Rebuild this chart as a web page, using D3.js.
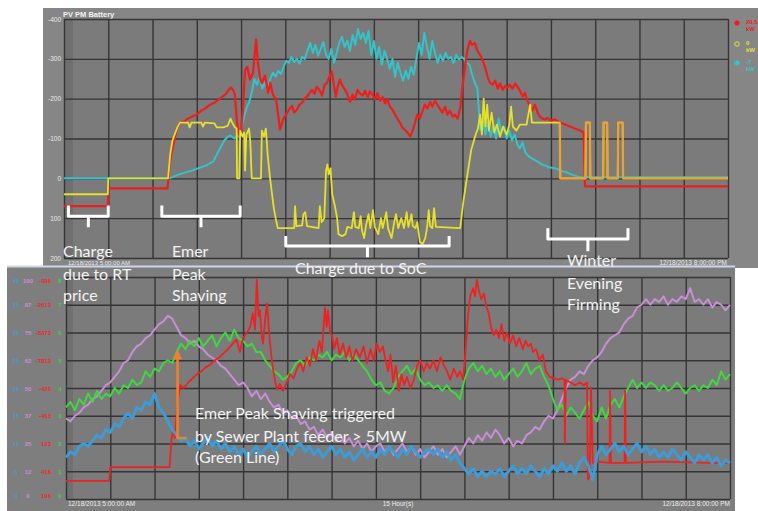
<!DOCTYPE html>
<html>
<head>
<meta charset="utf-8">
<script src="https://cdn.jsdelivr.net/npm/d3@7"></script>
<style>
  html, body { margin: 0; padding: 0; background: #ffffff; }
  svg { display: block; }
</style>
</head>
<body>
<svg id="chart" width="758" height="511"></svg>
<script>
// ---------- Upper trend: PV / PM / Battery (kW, negative = up) ----------
const hourTicks = [5, 6, 7, 8, 9, 10, 11, 12, 13, 14, 15, 16, 17, 18, 19, 20];
const topTicks = [-400, -300, -200, -100, 0, 100, 200];
const topTickLabels = ["-400", "-300", "-200", "-100", "0", "100", "200"];

// [hour, kW]
const redTop = [
  [5.00,70],[5.99,70],[6.00,25],[7.34,25],[7.38,-30],[7.42,-60],[7.46,-80],[7.50,-100],[7.55,-125],[7.62,-138],
  [7.70,-142],[7.80,-150],[7.90,-155],[8.00,-160],[8.10,-170],[8.20,-176],[8.30,-185],[8.40,-190],[8.50,-198],
  [8.58,-205],[8.66,-212],[8.72,-222],[8.77,-228],[8.82,-222],[8.86,-210],[8.90,-150],[8.95,-110],[9.00,-120],
  [9.04,-172],[9.09,-272],[9.14,-280],[9.20,-248],[9.27,-265],[9.34,-348],[9.38,-290],[9.43,-250],[9.47,-240],
  [9.54,-258],[9.61,-215],[9.66,-240],[9.72,-210],[9.79,-198],[9.85,-150],[9.88,-122],[9.95,-148],[10.04,-165],
  [10.10,-175],[10.15,-182],[10.20,-165],[10.26,-172],[10.32,-185],[10.38,-190],[10.44,-200],[10.49,-205],
  [10.55,-215],[10.60,-222],[10.66,-212],[10.71,-230],[10.77,-222],[10.83,-208],[10.89,-235],[10.94,-240],
  [11.00,-255],[11.05,-268],[11.10,-232],[11.14,-205],[11.18,-228],[11.23,-248],[11.29,-232],[11.35,-222],
  [11.40,-212],[11.46,-192],[11.52,-210],[11.57,-198],[11.63,-222],[11.69,-212],[11.75,-208],[11.80,-220],
  [11.86,-203],[11.91,-218],[11.97,-210],[12.03,-198],[12.08,-214],[12.14,-195],[12.20,-204],[12.25,-188],
  [12.31,-198],[12.36,-180],[12.42,-172],[12.48,-160],[12.53,-150],[12.59,-140],[12.64,-128],[12.70,-122],
  [12.76,-115],[12.82,-105],[12.87,-118],[12.93,-140],[12.98,-160],[13.04,-150],[13.10,-170],[13.15,-185],
  [13.21,-175],[13.27,-192],[13.32,-180],[13.38,-195],[13.44,-184],[13.49,-175],[13.55,-165],[13.61,-180],
  [13.66,-160],[13.72,-170],[13.78,-155],[13.83,-160],[13.89,-150],[13.95,-175],[14.00,-230],[14.06,-280],
  [14.11,-320],[14.17,-345],[14.22,-335],[14.28,-340],[14.34,-320],[14.40,-310],[14.45,-298],[14.51,-280],
  [14.57,-255],[14.62,-240],[14.68,-235],[14.74,-245],[14.80,-225],[14.85,-238],[14.91,-222],[14.96,-232],
  [15.02,-228],[15.07,-235],[15.13,-225],[15.19,-238],[15.24,-230],[15.30,-220],[15.36,-205],[15.41,-215],
  [15.47,-195],[15.53,-180],[15.58,-170],[15.64,-185],[15.70,-165],[15.75,-155],[15.81,-150],[15.87,-148],
  [15.92,-152],[15.98,-145],[16.09,-148],[16.20,-140],[16.32,-135],[16.43,-130],[16.54,-125],[16.66,-120],
  [16.74,-115],[16.77,20],[20.00,20]
];

const yellowTop = [
  [5.00,40],[5.99,40],[6.00,0],[7.35,0],[7.40,-60],[7.45,-95],[7.50,-110],[7.56,-128],[7.62,-140],[7.80,-140],
  [7.84,-128],[7.88,-140],[8.10,-140],[8.14,-130],[8.18,-140],[8.40,-138],[8.45,-128],[8.60,-128],[8.70,-132],
  [8.76,-150],[8.80,-140],[8.86,-128],[8.90,-125],[8.91,0],[8.96,0],[8.98,-120],[9.03,-105],[9.07,-115],
  [9.09,-20],[9.12,-110],[9.18,-125],[9.21,-90],[9.24,0],[9.45,0],[9.47,-120],[9.52,-105],[9.56,-125],
  [9.60,-60],[9.65,-5],[9.70,40],[9.74,75],[9.79,105],[9.83,125],[10.20,125],[10.22,70],[10.25,120],
  [10.38,118],[10.41,90],[10.45,85],[10.49,120],[10.75,125],[10.78,70],[10.82,110],[10.88,100],[10.92,-20],
  [10.95,-35],[10.98,-10],[11.02,-25],[11.06,40],[11.12,70],[11.17,100],[11.20,140],[11.28,145],[11.36,140],
  [11.40,122],[11.50,125],[11.55,85],[11.58,122],[11.66,125],[11.70,95],[11.73,130],[11.78,150],[11.82,120],
  [11.88,90],[11.92,125],[11.98,80],[12.02,122],[12.10,140],[12.16,100],[12.20,125],[12.28,85],[12.32,125],
  [12.40,150],[12.46,110],[12.50,90],[12.55,125],[12.62,100],[12.68,125],[12.74,85],[12.78,122],[12.85,90],
  [12.88,120],[12.94,125],[12.98,110],[13.04,160],[13.10,165],[13.16,150],[13.20,125],[13.24,80],[13.27,120],
  [13.32,125],[13.36,75],[13.40,122],[13.95,125],[14.02,60],[14.10,0],[14.20,-72],[14.30,-110],[14.35,-125],
  [14.40,-160],[14.44,-110],[14.48,-200],[14.52,-130],[14.56,-185],[14.60,-120],[14.66,-165],[14.72,-115],
  [14.78,-135],[14.85,-105],[14.92,-130],[15.00,-110],[15.06,-135],[15.10,-180],[15.14,-130],[15.22,-120],
  [15.30,-135],[15.45,-135],[15.53,-185],[15.57,-140],[16.20,-140],[16.21,0],[16.78,0],[16.79,-140],
  [16.88,-140],[16.89,0],[17.18,0],[17.19,-140],[17.27,-140],[17.28,0],[17.51,0],[17.52,-140],[17.62,-140],
  [17.63,0],[20.00,0]
];

const cyanTop = [
  [5.00,0],[7.38,0],[7.60,-10],[7.90,-20],[8.20,-32],[8.37,-42],[8.50,-70],[8.62,-95],[8.68,-102],[8.75,-108],
  [8.85,-100],[8.95,-110],[9.00,-125],[9.06,-150],[9.12,-175],[9.18,-190],[9.24,-215],[9.30,-250],[9.36,-235],
  [9.42,-255],[9.48,-225],[9.54,-240],[9.60,-220],[9.66,-250],[9.72,-265],[9.78,-255],[9.84,-270],[9.90,-262],
  [9.96,-280],[10.02,-295],[10.08,-290],[10.14,-305],[10.20,-292],[10.26,-300],[10.32,-288],[10.38,-305],
  [10.44,-300],[10.50,-320],[10.56,-340],[10.62,-315],[10.68,-335],[10.74,-308],[10.80,-325],[10.86,-342],
  [10.92,-310],[10.98,-300],[11.04,-325],[11.10,-290],[11.16,-315],[11.22,-340],[11.28,-355],[11.34,-330],
  [11.40,-345],[11.46,-320],[11.52,-360],[11.58,-335],[11.64,-375],[11.70,-350],[11.76,-365],[11.82,-340],
  [11.88,-370],[11.94,-310],[12.00,-345],[12.06,-300],[12.12,-330],[12.18,-285],[12.24,-320],[12.30,-300],
  [12.36,-275],[12.42,-300],[12.48,-255],[12.54,-290],[12.60,-265],[12.66,-245],[12.72,-270],[12.78,-250],
  [12.84,-280],[12.90,-260],[12.96,-300],[13.02,-340],[13.08,-310],[13.14,-365],[13.20,-330],[13.26,-300],
  [13.32,-345],[13.38,-315],[13.44,-290],[13.50,-310],[13.56,-295],[13.62,-315],[13.68,-300],[13.74,-305],
  [13.80,-290],[13.86,-310],[13.92,-298],[13.98,-305],[14.04,-300],[14.10,-290],[14.16,-285],[14.22,-260],
  [14.28,-240],[14.34,-225],[14.40,-122],[14.46,-150],[14.52,-110],[14.58,-140],[14.64,-105],[14.70,-135],
  [14.76,-100],[14.82,-150],[14.88,-115],[14.94,-130],[15.00,-100],[15.06,-120],[15.12,-95],[15.18,-110],
  [15.24,-85],[15.30,-75],[15.36,-90],[15.42,-65],[15.50,-55],[15.60,-48],[15.70,-42],[15.80,-35],
  [15.95,-28],[16.10,-25],[16.20,-20],[16.35,-15],[16.50,-8],[16.65,-3],[20.00,-3]
];

// ---------- Lower trend: feeder / battery / SoC, each on its own scale (grid divisions 0-8) ----------
const bottomLevels = [0, 1, 2, 3, 4, 5, 6, 7, 8];
const blueAxisLabels   = ["0", "5", "10", "15", "20", "25", "30", "35", "40"];
const purpleAxisLabels = ["0", "12", "25", "37", "50", "62", "75", "87", "100"];
const redAxisLabels    = ["196", "418", "123", "-463", "-425", "-7813", "-8373", "-2613", "-486"];
const greenAxisLabels  = ["0", "1", "2", "3", "4", "5", "6", "7", "8"];

// logged every 6 minutes, 5:00 AM to 8:00 PM
const bottomHours = d3.range(151).map(i => 5 + i * 0.1);

const greenBottom = [
  3.3,3.5,3.2,3.6,3.4,3.8,3.5,3.9,3.6,3.8, 3.7,4.0,3.8,4.1,4.0,4.3,4.1,4.2,4.6,4.4,
  4.7,4.6,4.9,5.0,4.9,5.3,5.6,5.4,5.7,5.5, 5.8,5.5,5.7,5.9,5.5,5.8,6.0,5.7,6.1,5.8,
  5.7,5.5,5.6,5.3,5.3,5.0,4.8,4.6,4.5,4.3, 4.4,4.6,4.9,5.0,4.8,5.1,5.0,5.2,5.1,5.3,
  5.0,5.2,5.1,5.3,5.0,5.2,5.0,4.8,4.6,4.3, 4.1,4.2,3.9,3.8,4.0,4.4,4.6,4.8,4.5,4.7,
  4.3,4.1,4.2,4.0,4.1,3.9,4.1,3.9,3.8,3.6, 4.3,4.7,4.9,4.6,4.8,4.5,4.7,4.4,4.6,4.3,
  4.5,4.7,4.4,4.6,4.9,4.5,4.7,4.8,4.4,4.1, 3.6,3.2,3.4,3.0,3.3,3.1,2.9,3.2,3.5,3.0,
  2.8,3.3,2.9,3.4,3.6,3.3,3.7,4.0,4.3,4.0, 4.2,4.0,4.2,4.1,3.9,4.1,3.9,4.0,4.2,4.0,
  3.8,4.0,4.1,3.9,4.1,4.0,4.3,4.1,4.6,4.3, 4.5
];

const blueBottom = [
  1.5,1.7,1.6,1.9,2.0,1.9,2.1,2.3,2.2,2.5, 2.4,2.7,2.6,2.9,3.1,2.9,3.3,3.2,3.5,3.4,
  3.8,3.3,3.1,2.8,2.5,2.3,2.1,2.2,1.9,2.1, 1.8,2.0,2.2,1.9,2.1,1.8,2.0,1.7,1.9,1.6,
  1.8,1.5,1.7,1.9,1.6,1.8,2.0,1.7,1.9,2.1, 1.8,1.6,1.9,2.0,1.7,1.9,1.6,1.8,1.5,1.7,
  1.9,1.6,1.8,1.5,1.7,1.4,1.6,1.8,1.5,1.7, 1.5,1.8,1.6,1.9,1.7,1.5,1.8,1.6,1.9,1.7,
  1.5,1.7,1.8,1.6,1.8,1.5,1.7,1.4,1.6,1.3, 1.1,0.9,1.1,0.8,1.0,0.8,1.0,0.9,1.1,0.8,
  1.0,1.2,0.9,1.1,0.9,1.2,1.0,0.8,1.1,0.9, 1.2,1.0,1.3,1.0,1.2,0.9,1.3,1.5,1.2,0.7,
  1.6,1.9,1.6,1.8,2.0,1.7,1.9,1.6,1.8,2.0, 1.7,1.9,1.6,1.8,1.5,1.7,1.5,1.8,1.6,1.4,
  1.7,1.5,1.3,1.6,1.4,1.6,1.3,1.5,1.2,1.4, 1.3
];

const purpleBottom = [
  2.9,2.8,3.0,3.1,3.3,3.4,3.6,3.7,3.9,4.1, 4.2,4.4,4.6,4.9,5.0,5.3,5.5,5.6,5.8,5.9,
  6.1,6.3,6.4,6.6,6.5,6.2,5.9,5.8,5.6,5.7, 5.5,5.4,5.2,5.1,5.0,4.8,4.7,4.5,4.3,4.1,
  4.2,4.0,3.7,3.9,3.6,3.8,3.5,3.3,3.4,3.1, 3.2,2.9,3.0,2.7,2.8,2.5,2.6,2.3,2.5,2.2,
  2.4,2.1,2.3,2.0,2.2,1.9,2.1,1.8,2.0,1.7, 1.9,2.0,1.7,1.9,1.6,1.8,2.0,1.7,1.9,1.6,
  1.8,1.5,1.7,1.9,1.6,1.8,1.5,1.7,1.9,1.6, 1.9,2.2,2.0,2.3,2.1,2.4,2.2,2.5,2.3,2.0,
  2.2,1.9,2.1,2.0,2.3,2.4,2.6,2.5,2.8,3.0, 2.9,3.2,3.6,4.0,4.3,4.4,4.6,4.5,4.8,5.0,
  5.1,5.3,5.6,5.8,5.9,6.0,6.3,6.5,6.6,6.9, 7.0,7.2,7.0,7.2,7.1,7.3,7.0,7.2,7.1,7.3,
  7.2,7.6,7.1,7.2,7.0,7.2,6.9,7.1,7.0,6.8, 7.0
];

// battery output on the lower trend: [hour, grid division]
const redBottom = [
  [5.00,0.65],[5.98,0.65],[6.00,1.15],[7.34,1.15],[7.38,2.1],[7.42,2.5],[7.46,2.2],[7.52,3.5],[7.58,4.1],
  [7.66,4.0],[7.76,4.2],[7.86,4.35],[7.96,4.5],[8.06,4.6],[8.16,4.75],[8.26,4.85],[8.36,5.0],[8.46,5.1],
  [8.56,5.25],[8.66,5.4],[8.77,5.6],[8.85,5.75],[8.93,5.3],[9.00,5.8],[9.09,6.0],[9.16,6.2],[9.22,6.7],
  [9.27,6.1],[9.31,7.9],[9.35,6.6],[9.38,6.8],[9.42,5.9],[9.45,5.6],[9.50,6.5],[9.54,7.05],[9.58,6.2],
  [9.61,5.6],[9.65,5.0],[9.68,4.65],[9.73,4.2],[9.77,3.95],[9.83,4.15],[9.90,3.9],[9.99,4.2],[10.06,4.5],
  [10.14,4.35],[10.22,4.7],[10.29,4.9],[10.36,4.6],[10.44,5.1],[10.51,4.8],[10.58,5.4],[10.65,5.0],
  [10.72,5.7],[10.78,5.3],[10.85,6.9],[10.89,6.2],[10.92,6.8],[10.97,6.0],[11.01,5.9],[11.06,5.4],
  [11.12,5.8],[11.18,5.2],[11.26,5.6],[11.33,5.1],[11.40,5.5],[11.47,5.0],[11.55,5.4],[11.64,5.1],
  [11.72,5.5],[11.80,4.9],[11.88,5.4],[11.95,5.0],[12.02,5.6],[12.09,5.3],[12.16,5.5],[12.22,5.0],
  [12.28,4.6],[12.33,5.2],[12.39,4.2],[12.45,4.8],[12.52,3.9],[12.58,4.5],[12.64,4.1],[12.70,4.4],
  [12.78,4.0],[12.86,4.3],[12.93,4.8],[13.00,5.0],[13.08,4.6],[13.15,4.9],[13.22,4.7],[13.30,5.0],
  [13.38,4.6],[13.46,5.1],[13.54,4.8],[13.61,4.6],[13.68,4.3],[13.76,4.7],[13.84,4.4],[13.90,4.6],
  [13.97,4.3],[14.03,5.4],[14.08,6.6],[14.13,7.3],[14.20,7.6],[14.24,7.3],[14.28,7.9],[14.33,7.5],
  [14.38,7.2],[14.44,7.4],[14.50,6.9],[14.55,6.7],[14.60,6.2],[14.66,5.9],[14.72,6.1],[14.78,5.8],
  [14.84,6.3],[14.90,5.7],[14.96,6.0],[15.03,5.6],[15.10,5.9],[15.17,5.5],[15.24,5.8],[15.32,5.4],
  [15.38,5.7],[15.44,5.5],[15.50,5.6],[15.55,5.3],[15.62,5.4],[15.69,5.0],[15.77,5.2],[15.84,4.6],
  [15.93,4.4],[16.02,4.35],[16.12,4.3],[16.20,4.35],[16.26,4.3],[16.27,2.0],[16.29,4.3],[16.40,4.2],
  [16.50,4.1],[16.61,4.2],[16.70,4.1],[16.77,4.2],[16.79,0.7],[16.83,0.8],[16.86,4.0],[16.90,1.3],
  [17.00,1.35],[17.28,1.3],[17.29,3.9],[17.31,1.3],[17.62,1.3],[17.63,3.9],[17.65,1.3],[18.50,1.35],
  [19.50,1.3],[20.00,1.3]
];

// ---------- scales ----------
const topX = d3.scaleLinear().domain([5, 20]).range([64, 728]);
const topY = d3.scaleLinear().domain([-400, 200]).range([19, 258]);
const botX = d3.scaleLinear().domain([5, 20]).range([66, 730]);
const botY = d3.scaleLinear().domain([0, 8]).range([499, 277]);

const svg = d3.select("#chart");
const gridColor = "#353535";
const tinyFont = "Liberation Sans, Arial, sans-serif";

function styleGrid(g) {
  g.select(".domain").remove();
  g.selectAll(".tick line").attr("stroke", gridColor).attr("stroke-width", 1.4);
}

function drawSeries(g, data, x, y, color, width) {
  g.append("path")
    .datum(data)
    .attr("d", d3.line().x(d => x(d[0])).y(d => y(d[1])))
    .attr("fill", "none")
    .attr("stroke", color)
    .attr("stroke-width", width)
    .attr("stroke-linejoin", "round");
}

// ---------- upper panel ----------
const upper = svg.append("g");
upper.append("rect").attr("x", 43).attr("y", 8).attr("width", 715).attr("height", 260).attr("fill", "#868686");
upper.append("rect").attr("x", topX(5)).attr("y", topY(-400))
  .attr("width", topX(20) - topX(5)).attr("height", topY(200) - topY(-400)).attr("fill", "#7b7b7b");
upper.append("rect").attr("x", topX(5)).attr("y", topY(-400))
  .attr("width", 9).attr("height", topY(200) - topY(-400)).attr("fill", "#6f6f6f");
upper.append("text").attr("x", 63).attr("y", 17).text("PV PM Battery")
  .attr("font-family", tinyFont).attr("font-size", 7.5).attr("font-weight", "bold").attr("fill", "#f2f2f2");

upper.append("g").attr("transform", `translate(${topX(5)},0)`)
  .call(d3.axisLeft(topY).tickValues(topTicks).tickSize(-(topX(20) - topX(5))).tickPadding(3)
    .tickFormat((d, i) => topTickLabels[i]))
  .call(styleGrid)
  .call(g => g.selectAll("text").attr("fill", "#e6e6e6").attr("font-size", 6.5).attr("font-family", tinyFont));
upper.append("g").attr("transform", `translate(0,${topY(200)})`)
  .call(d3.axisBottom(topX).tickValues(hourTicks).tickSize(-(topY(200) - topY(-400))).tickFormat(""))
  .call(styleGrid);

const upperLines = upper.append("g");
drawSeries(upperLines, cyanTop, topX, topY, "#33c4c9", 2);
drawSeries(upperLines, redTop, topX, topY, "#f01d1d", 2.2);
drawSeries(upperLines, yellowTop, topX, topY, "#e6e02a", 1.8);
drawSeries(upperLines, yellowTop.filter(d => d[0] >= 16.2), topX, topY, "#f0a030", 2.2);

upper.append("text").attr("x", 68).attr("y", 265).text("12/18/2013 5:00:00 AM")
  .attr("font-family", tinyFont).attr("font-size", 6).attr("fill", "#ececec");
upper.append("text").attr("x", 727).attr("y", 264.5).attr("text-anchor", "end").text("12/18/2013 8:00:00 PM")
  .attr("font-family", tinyFont).attr("font-size", 6.5).attr("fill", "#ececec");

// legend
const legend = [
  { color: "#f01d1d", value: "20.5", unit: "kW", y: 23, ring: false },
  { color: "#e6e02a", value: "0", unit: "kW", y: 44, ring: true },
  { color: "#33c4c9", value: "-7", unit: "kW", y: 63, ring: false }
];
legend.forEach(l => {
  upper.append("circle").attr("cx", 737).attr("cy", l.y).attr("r", 2.2)
    .attr("fill", l.ring ? "none" : l.color).attr("stroke", l.color).attr("stroke-width", 1);
  upper.append("text").attr("x", 746).attr("y", l.y + 1).text(l.value)
    .attr("font-family", tinyFont).attr("font-size", 6).attr("font-weight", "bold").attr("fill", l.color);
  upper.append("text").attr("x", 746).attr("y", l.y + 8).text(l.unit)
    .attr("font-family", tinyFont).attr("font-size", 6).attr("font-weight", "bold").attr("fill", l.color);
});

// ---------- lower panel ----------
const lower = svg.append("g");
lower.append("rect").attr("x", 7).attr("y", 266).attr("width", 728).attr("height", 245).attr("fill", "#7e7e7e");
lower.append("line").attr("x1", 7).attr("x2", 735).attr("y1", 266.5).attr("y2", 266.5)
  .attr("stroke", "#cfd6e4").attr("stroke-width", 2);
lower.append("rect").attr("x", botX(5)).attr("y", botY(8))
  .attr("width", botX(20) - botX(5)).attr("height", botY(0) - botY(8)).attr("fill", "#7b7b7b");
lower.append("rect").attr("x", botX(5)).attr("y", botY(8))
  .attr("width", 7).attr("height", botY(0) - botY(8)).attr("fill", "#707070");

lower.append("g").attr("transform", `translate(${botX(5)},0)`)
  .call(d3.axisLeft(botY).tickValues(bottomLevels).tickSize(-(botX(20) - botX(5))).tickFormat(""))
  .call(styleGrid);
lower.append("g").attr("transform", `translate(0,${botY(0)})`)
  .call(d3.axisBottom(botX).tickValues(hourTicks).tickSize(-(botY(0) - botY(8))).tickFormat(""))
  .call(styleGrid);

// four stacked value axes on the left
const axisCols = [
  { labels: blueAxisLabels, color: "#3d9bd6", x: 16, anchor: "middle" },
  { labels: purpleAxisLabels, color: "#c88ed6", x: 28, anchor: "middle" },
  { labels: redAxisLabels, color: "#ee2a2a", x: 51, anchor: "end" },
  { labels: greenAxisLabels, color: "#3fd23f", x: 60, anchor: "middle" }
];
axisCols.forEach(c => {
  lower.append("g").selectAll("text").data(bottomLevels).join("text")
    .attr("x", c.x)
    .attr("y", d => Math.min(Math.max(botY(d), 280), 495) + 2.5)
    .attr("text-anchor", c.anchor)
    .attr("font-family", tinyFont).attr("font-size", 6).attr("font-weight", "bold")
    .attr("fill", c.color)
    .text((d, i) => c.labels[i]);
});

const lowerLines = lower.append("g");
drawSeries(lowerLines, bottomHours.map((h, i) => [h, purpleBottom[i]]), botX, botY, "#c88ed6", 2);
drawSeries(lowerLines, bottomHours.map((h, i) => [h, greenBottom[i]]), botX, botY, "#3fd83f", 2);
drawSeries(lowerLines, redBottom, botX, botY, "#ee2222", 1.8);
drawSeries(lowerLines, bottomHours.map((h, i) => [h, blueBottom[i]]), botX, botY, "#3d9bd6", 3);

lower.append("text").attr("x", 68).attr("y", 506).text("12/18/2013 5:00:00 AM")
  .attr("font-family", tinyFont).attr("font-size", 6.5).attr("fill", "#ececec");
lower.append("text").attr("x", botX(12.5)).attr("y", 506).attr("text-anchor", "middle").text("15 Hour(s)")
  .attr("font-family", tinyFont).attr("font-size", 6.5).attr("fill", "#ececec");
lower.append("text").attr("x", 730).attr("y", 506).attr("text-anchor", "end").text("12/18/2013 8:00:00 PM")
  .attr("font-family", tinyFont).attr("font-size", 6.5).attr("fill", "#ececec");

// ---------- annotations ----------
const notes = svg.append("g");
const braces = [
  { h0: 5.10, h1: 6.00, top: 68, mid: 95, tip: 123 },
  { h0: 7.21, h1: 8.98, top: 68, mid: 95, tip: 123 },
  { h0: 10.01, h1: 13.70, top: 145, mid: 170, tip: 198 },
  { h0: 15.93, h1: 17.74, top: 125, mid: 152, tip: 183 }
];
braces.forEach(b => {
  const x0 = topX(b.h0), x1 = topX(b.h1), xc = (x0 + x1) / 2;
  notes.append("path")
    .attr("d", `M${x0},${topY(b.top)} V${topY(b.mid)} H${x1} V${topY(b.top)} M${xc},${topY(b.mid)} V${topY(b.tip)}`)
    .attr("fill", "none").attr("stroke", "#ffffff").attr("stroke-width", 3)
    .attr("stroke-linejoin", "round");
});

const noteFont = "Lato, 'Open Sans', sans-serif";
const noteText = [
  { x: 63, y: 257, step: 21.5, lines: ["Charge", "due to RT", "price"] },
  { x: 172, y: 257, step: 21.5, lines: ["Emer", "Peak", "Shaving"] },
  { x: 295, y: 274, step: 21.5, lines: ["Charge due to SoC"] },
  { x: 567, y: 266, step: 21.5, lines: ["Winter", "Evening", "Firming"] },
  { x: 195, y: 419, step: 21.5, lines: ["Emer Peak Shaving triggered", "by Sewer Plant feeder > 5MW", "(Green Line)"] }
];
noteText.forEach(n => {
  n.lines.forEach((t, i) => {
    notes.append("text").attr("x", n.x).attr("y", n.y + (i === 0 ? 0 : 1) + i * n.step).text(t)
      .attr("font-family", noteFont).attr("font-size", 16).attr("fill", "#f3f3f3");
  });
});

// trigger arrow pointing at the feeder trace
const ax = botX(7.52), ayBase = botY(2.2), ayTip = botY(5.4);
notes.append("path")
  .attr("d", `M${botX(7.72)},${ayBase} H${ax} V${ayTip + 8}`)
  .attr("fill", "none").attr("stroke", "#f07f2e").attr("stroke-width", 2.6);
notes.append("path")
  .attr("d", `M${ax},${ayTip} L${ax - 4.5},${ayTip + 10} L${ax + 4.5},${ayTip + 10} Z`)
  .attr("fill", "#f07f2e");
</script>
</body>
</html>
